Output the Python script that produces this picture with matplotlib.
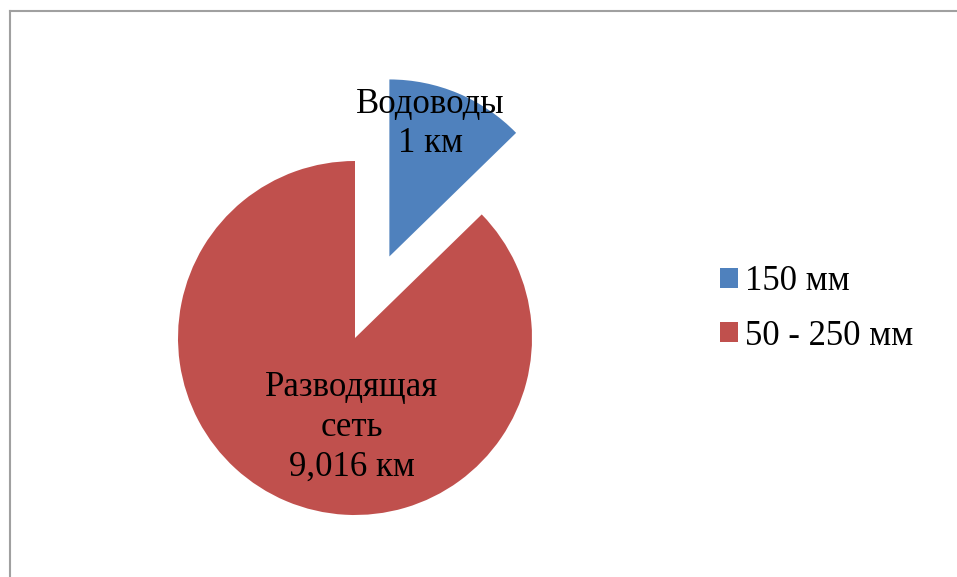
import matplotlib
matplotlib.use("Agg")
import matplotlib.pyplot as plt
from matplotlib.lines import Line2D

# Data (slice shares; label texts from the picture)
categories = ["150 мм", "50 - 250 мм"]
slice_share = [12.7, 87.3]
slice_labels = ["Водоводы\n1 км", "Разводящая\nсеть\n9,016 км"]
colors = ["#4F81BD", "#C0504D"]

W, H = 957, 577
fig = plt.figure(figsize=(W / 100, H / 100), dpi=100)
ax = fig.add_axes([0, 0, 1, 1])

cx, cy, r = 355, H - 338, 177
wedges, _ = ax.pie(slice_share, colors=colors, startangle=90, counterclock=False,
                   explode=[0.5 * r, 0], center=(cx, cy), radius=r,
                   wedgeprops=dict(linewidth=0))
ax.set_xlim(0, W)
ax.set_ylim(0, H)
ax.set_aspect('auto')
ax.axis('off')

font = ['Liberation Serif', 'DejaVu Serif']
fs = 25
ax.text(430, H - 124, slice_labels[0], ha='center', va='center', fontsize=fs,
        family=font, linespacing=1.28)
ax.text(352, H - 427, slice_labels[1], ha='center', va='center', fontsize=fs,
        family=font, linespacing=1.28)

# frame (cut at right and bottom)
ax.add_line(Line2D([9.5, W], [H - 10.5, H - 10.5], color='#A0A0A0', lw=1.5))
ax.add_line(Line2D([9.5, 9.5], [0, H - 10.5], color='#A0A0A0', lw=1.5))

leg = ax.legend(wedges, categories, loc='upper left', bbox_to_anchor=(720 / W, 1 - 265 / H),
                frameon=False, prop=dict(family=font, size=fs),
                handlelength=0.52, handleheight=0.52, handletextpad=0.2, labelspacing=0.62,
                borderpad=0, borderaxespad=0)

fig.savefig("out.png", dpi=100)
